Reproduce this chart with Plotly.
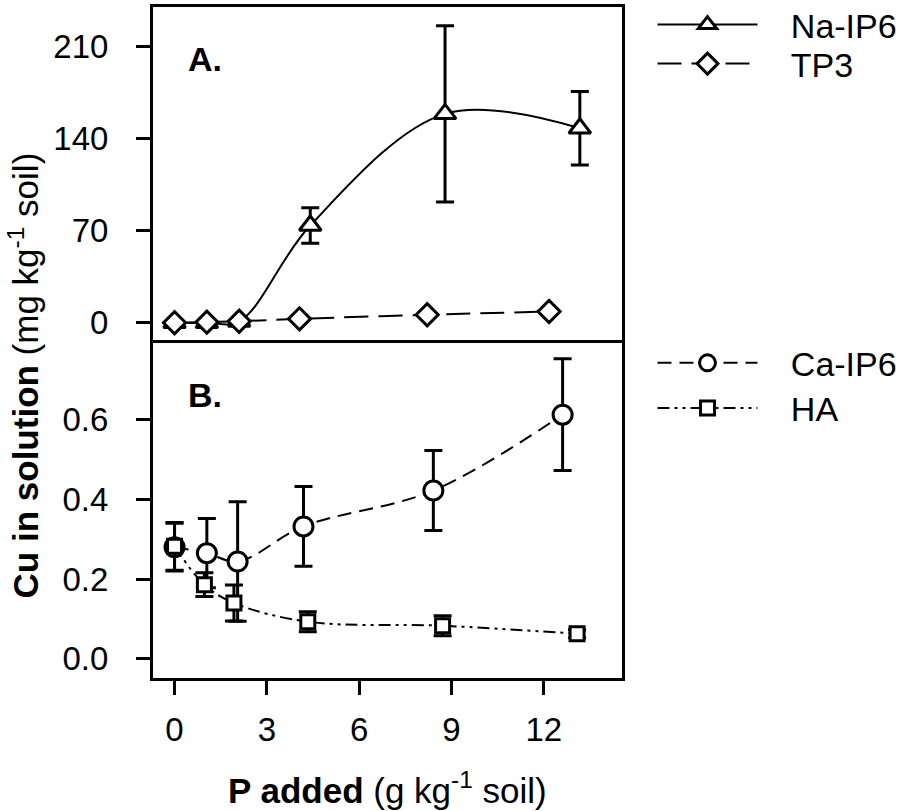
import plotly.graph_objects as go

# ---------------- data ----------------
# Panel A
na_x = [0, 1.05, 2.1, 4.41, 8.79, 13.17]
na_y = [0, 0, 1, 74, 159, 148]
na_err = [0, 0, 0, 13.5, 67, 28]

tp3_x = [0, 1.05, 2.1, 4.06, 8.21, 12.17]
tp3_y = [0, 0.5, 1.2, 3, 6.1, 8.6]

# Panel B
ca_x = [0, 1.05, 2.05, 4.19, 8.41, 12.61]
ca_y = [0.28, 0.265, 0.244, 0.332, 0.422, 0.612]
ca_err = [0.06, 0.087, 0.15, 0.10, 0.10, 0.14]

ha_x = [0, 0.97, 1.93, 4.33, 8.71, 13.08]
ha_y = [0.282, 0.186, 0.14, 0.093, 0.083, 0.063]
ha_err = [0.06, 0.03, 0.045, 0.025, 0.025, 0.01]

xticks = [0, 3, 6, 9, 12]
ya_ticks = [0, 70, 140, 210]
yb_ticks = [0.0, 0.2, 0.4, 0.6]

FONT = "Arial, Liberation Sans, sans-serif"
TICK_FS = 33
LEG_FS = 34
TITLE_FS = 35
PANEL_FS = 34
PAD = "\u00a0\u00a0\u00a0"

fig = go.Figure()

def add(x, y, err, name, symbol, size, dash, xa, ya, legend):
    kw = {}
    if err is not None:
        kw["error_y"] = dict(type="data", array=err, visible=True,
                             color="black", thickness=3, width=9)
    fig.add_trace(go.Scatter(
        x=x, y=y, name=PAD + name, mode="lines+markers",
        line=dict(color="black", width=2, dash=dash, shape="spline"),
        marker=dict(symbol=symbol, size=size, color="white",
                    line=dict(color="black", width=3)),
        xaxis=xa, yaxis=ya, legend=legend, **kw))

add(na_x, na_y, na_err, "Na-IP6", "triangle-up", 19, "solid", "x2", "y2", "legend")
add(tp3_x, tp3_y, None, "TP3", "diamond", 17, "24px,10px", "x2", "y2", "legend2")
add(ca_x, ca_y, ca_err, "Ca-IP6", "circle", 19, "14px,8px", "x", "y", "legend3")
add(ha_x, ha_y, ha_err, "HA", "square", 14, "12px,5px,3px,5px,3px,5px", "x", "y", "legend4")

axis_common = dict(showline=True, linecolor="black", linewidth=3,
                   showgrid=False, zeroline=False,
                   tickfont=dict(family=FONT, size=TICK_FS, color="black"))

def leg(ypix):
    # ypix: desired pixel position of the legend box top
    return dict(x=1.065, y=(677.5 - ypix) / 670.5, xanchor="left", yanchor="top",
                font=dict(family=FONT, size=LEG_FS), itemwidth=100,
                bgcolor="rgba(0,0,0,0)", tracegroupgap=0)

OFF = 31
fig.update_layout(
    width=908, height=811,
    margin=dict(l=153, r=286, t=7, b=133, pad=0, autoexpand=False),
    paper_bgcolor="white", plot_bgcolor="white",
    font=dict(family=FONT, size=TICK_FS, color="black"),
    xaxis=dict(domain=[0, 1], anchor="y", range=[-0.7, 14.54], mirror=True,
               tickvals=xticks, ticks="outside", ticklen=14, tickwidth=3,
               tickcolor="black", ticklabelstandoff=6, **axis_common),
    yaxis=dict(domain=[0, 0.5], anchor="x", range=[-0.048, 0.793], mirror=True,
               tickvals=yb_ticks, tickformat=".1f", ticks="outside",
               ticklen=14, tickwidth=3, tickcolor="black",
               ticklabelstandoff=21, **axis_common),
    xaxis2=dict(domain=[0, 1], anchor="y2", range=[-0.7, 14.54], side="top",
                mirror=False, matches="x", showticklabels=False, ticks="",
                **axis_common),
    yaxis2=dict(domain=[0.5, 1], anchor="x2", range=[-15, 240.3], mirror=True,
                tickvals=ya_ticks, ticks="outside", ticklen=14, tickwidth=3,
                tickcolor="black", ticklabelstandoff=21, **axis_common),
    legend=leg(27 - OFF),
    legend2=leg(66 - OFF),
    legend3=leg(365 - OFF),
    legend4=leg(410 - OFF),
    showlegend=True,
)

fig.add_annotation(text="<b>A.</b>", xref="x2 domain", yref="y2 domain",
                   x=0.07, y=0.845, xanchor="left", yanchor="middle",
                   showarrow=False, font=dict(family=FONT, size=PANEL_FS))
fig.add_annotation(text="<b>B.</b>", xref="x domain", yref="y domain",
                   x=0.07, y=0.843, xanchor="left", yanchor="middle",
                   showarrow=False, font=dict(family=FONT, size=PANEL_FS))
fig.add_annotation(text="<b>Cu in solution</b> (mg kg<sup>-1</sup> soil)",
                   xref="paper", yref="paper", x=-0.275, y=0.451,
                   xanchor="center", yanchor="middle", textangle=-90,
                   showarrow=False, font=dict(family=FONT, size=TITLE_FS))
fig.add_annotation(text="<b>P added</b> (g kg<sup>-1</sup> soil)",
                   xref="paper", yref="paper", x=0.5, y=(677.5 - 787) / 670.5,
                   xanchor="center", yanchor="middle",
                   showarrow=False, font=dict(family=FONT, size=TITLE_FS))

fig.write_html("out.html")
